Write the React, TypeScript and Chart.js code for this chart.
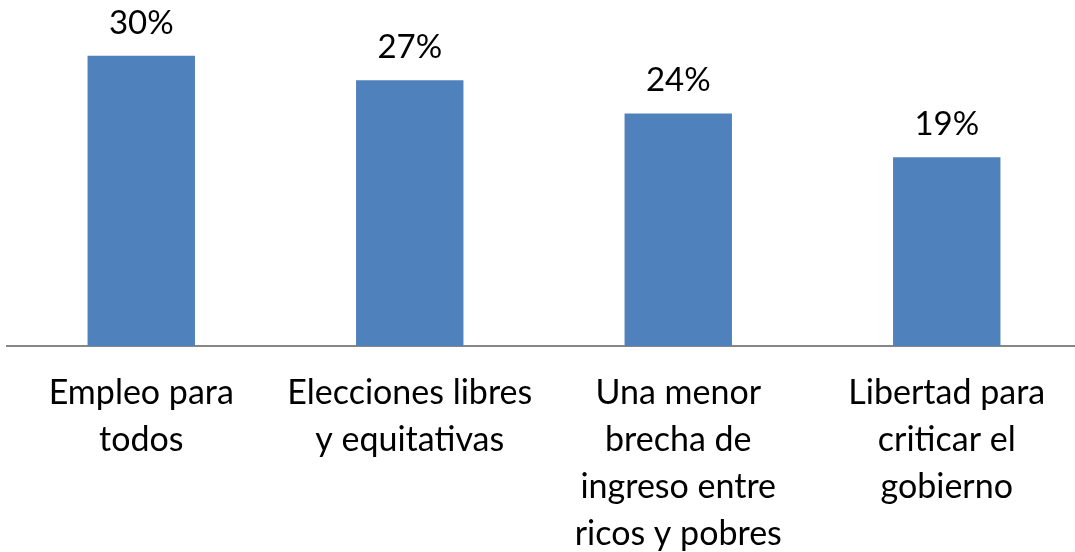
import React, { useEffect, useRef } from "react";
import { Chart, registerables } from "chart.js";

Chart.register(...registerables);

const categories: string[][] = [
  ["Empleo para", "todos"],
  ["Elecciones libres", "y equitativas"],
  ["Una menor", "brecha de", "ingreso entre", "ricos y pobres"],
  ["Libertad para", "criticar el", "gobierno"],
];
const values: number[] = [29.7, 27.2, 23.8, 19.3];
const yMax = 35.4;

const FONT = "Lato, 'Open Sans', sans-serif";

const valueLabels = {
  id: "valueLabels",
  afterDatasetsDraw(chart: any) {
    const ctx = chart.ctx;
    const meta = chart.getDatasetMeta(0);
    ctx.save();
    ctx.font = `33px ${FONT}`;
    ctx.fillStyle = "#000000";
    ctx.textAlign = "center";
    ctx.textBaseline = "alphabetic";
    meta.data.forEach((bar: any, i: number) => {
      ctx.fillText(`${Math.round(values[i])}%`, bar.x, bar.y - 22);
    });
    ctx.restore();
  },
};

export default function App() {
  const ref = useRef<HTMLCanvasElement | null>(null);
  useEffect(() => {
    if (!ref.current) return;
    const chart = new Chart(ref.current, {
      type: "bar",
      data: {
        labels: categories,
        datasets: [
          {
            data: values,
            backgroundColor: "#4F81BD",
            borderWidth: 0,
            barPercentage: 0.4,
            categoryPercentage: 1,
          },
        ],
      },
      options: {
        responsive: false,
        animation: false,
        layout: { padding: { left: 7, right: 1, top: 0, bottom: 0 } },
        plugins: { legend: { display: false }, tooltip: { enabled: false } },
        scales: {
          y: { display: false, min: 0, max: yMax },
          x: {
            grid: { display: false, drawTicks: false },
            border: { display: true, color: "#868686", width: 2 },
            ticks: {
              color: "#000000",
              font: { family: FONT, size: 34, lineHeight: 1.38 },
              padding: 24,
              maxRotation: 0,
              autoSkip: false,
            },
            afterFit: (scale: any) => {
              scale.height = 206;
            },
          },
        },
      },
      plugins: [valueLabels],
    });
    return () => chart.destroy();
  }, []);
  return (
    <div style={{ position: "absolute", left: 0, top: 0, width: 1082, height: 552 }}>
      <canvas ref={ref} width={1082} height={552} style={{ display: "block" }} />
    </div>
  );
}
